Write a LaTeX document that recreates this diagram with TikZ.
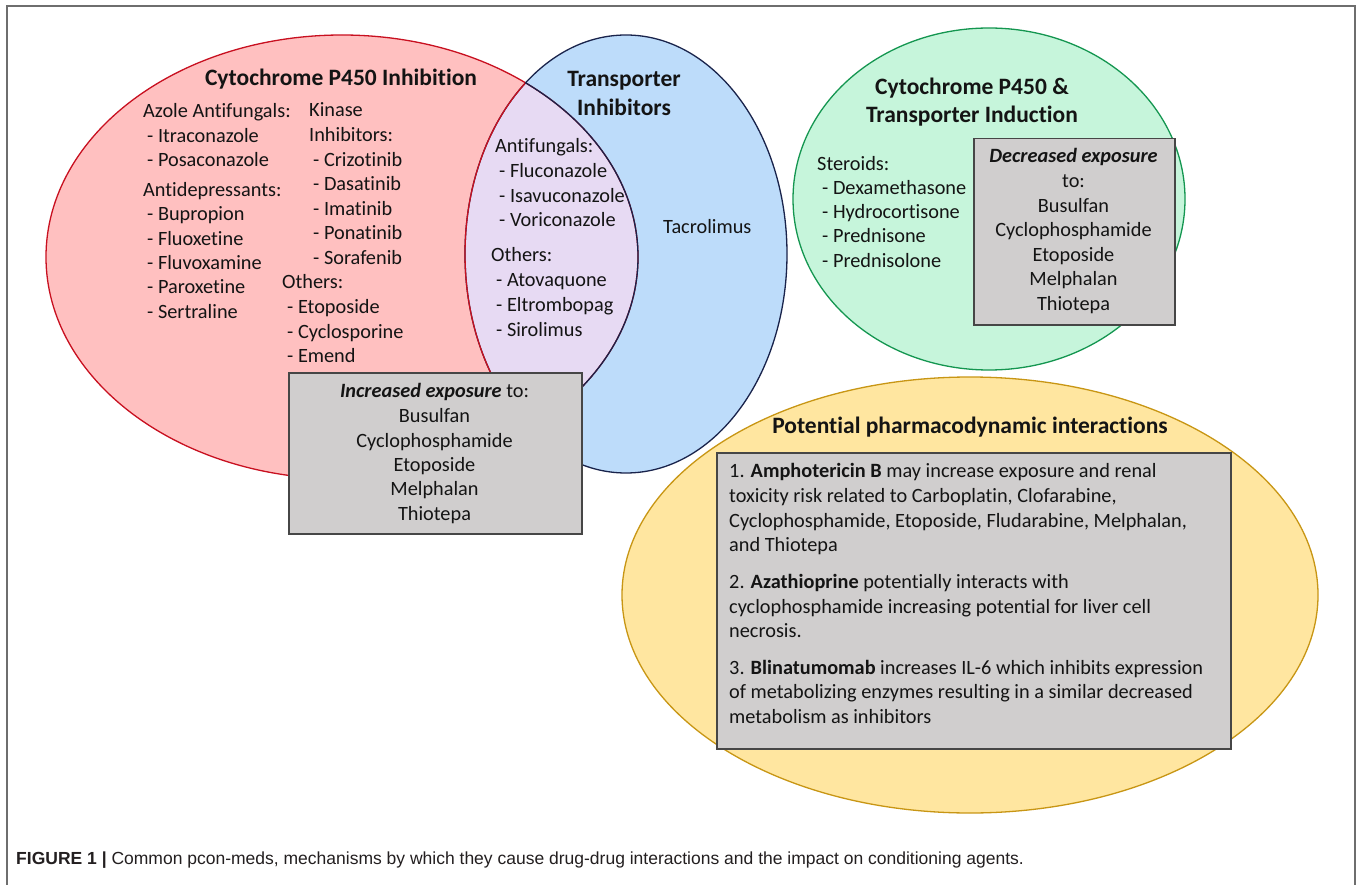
\documentclass[tikz,border=0pt]{standalone}
\usepackage{fontspec}
\setmainfont{Carlito}[Ligatures=NoCommon]
\newfontfamily\capfont{Liberation Sans}
\definecolor{pinkf}{RGB}{255,192,192}
\definecolor{redl}{RGB}{200,16,32}
\definecolor{bluef}{RGB}{189,220,250}
\definecolor{navyl}{RGB}{25,35,75}
\definecolor{purplef}{RGB}{231,218,243}
\definecolor{greenf}{RGB}{198,245,219}
\definecolor{greenl}{RGB}{20,150,80}
\definecolor{yellowf}{RGB}{255,230,160}
\definecolor{yellowl}{RGB}{200,150,20}
\definecolor{boxf}{RGB}{208,206,206}
\definecolor{boxl}{RGB}{70,70,70}
\definecolor{capc}{RGB}{35,31,32}
\definecolor{framec}{RGB}{110,110,110}
\definecolor{txtc}{RGB}{20,20,20}
\begin{document}
\begin{tikzpicture}[x=1pt,y=-1pt,
  txt/.style={anchor=base west,inner sep=0pt,text=txtc,font=\fontsize{20.3}{24}\selectfont},
  ctxt/.style={anchor=base,inner sep=0pt,text=txtc,font=\fontsize{20.3}{24}\selectfont},
  ttl/.style={anchor=base,inner sep=0pt,text=txtc,font=\fontsize{23.5}{28}\selectfont\bfseries},
  graybox/.style={draw=boxl,fill=boxf,line width=1.5pt,anchor=north west,inner sep=0pt},
  outl/.style={line width=1.3pt}]
\useasboundingbox (0,0) rectangle (1357,885);
\fill[white] (0,0) rectangle (1357,885);
% frame
\draw[framec,line width=2pt] (7,885) -- (7,6) -- (1355,6) -- (1355,885);

% red and blue ellipses
\fill[pinkf] (342,257) ellipse [x radius=296pt, y radius=222pt];
\fill[bluef] (626,254) ellipse [x radius=161pt, y radius=219pt];
\begin{scope}
  \clip (342,257) ellipse [x radius=296pt, y radius=222pt];
  \fill[purplef] (626,254) ellipse [x radius=161pt, y radius=219pt];
\end{scope}
\draw[redl,outl] (342,257) ellipse [x radius=296pt, y radius=222pt];
\draw[navyl,outl] (626,254) ellipse [x radius=161pt, y radius=219pt];
\begin{scope}
  \clip (342,257) ellipse [x radius=296pt, y radius=222pt];
  \draw[redl,outl] (626,254) ellipse [x radius=161pt, y radius=219pt];
\end{scope}
\begin{scope}
  \clip (626,254) ellipse [x radius=161pt, y radius=219pt];
  \draw[navyl,outl] (342,257) ellipse [x radius=296pt, y radius=222pt];
\end{scope}

% green ellipse
\draw[greenl,fill=greenf,outl] (989,199) ellipse [x radius=196pt, y radius=171pt];
% yellow ellipse
\draw[yellowl,fill=yellowf,outl] (970,595) ellipse [x radius=348pt, y radius=218pt];

% titles
\node[ttl] (t-cyp) at (341,86) {Cytochrome P450 Inhibition};
\node[ttl] (t-tr1) at (624,87) {Transporter};
\node[ttl] (t-tr2) at (624,116) {Inhibitors};
\node[ttl] (t-ind1) at (972,95) {Cytochrome P450 \&};
\node[ttl] (t-ind2) at (972,123) {Transporter Induction};
\node[ttl] (t-pd) at (970,433) {Potential pharmacodynamic interactions};

% red column 1
\node[txt] (r-a) at (143,118) {Azole Antifungals:};
\foreach \t/\y [count=\i] in {- Itraconazole/143, - Posaconazole/167}
  \node[txt] (ra-\i) at (147,\y) {\t};
\node[txt] (r-b) at (143,197) {Antidepressants:};
\foreach \t/\y [count=\i] in {- Bupropion/221, - Fluoxetine/246, - Fluvoxamine/270, - Paroxetine/294, - Sertraline/319}
  \node[txt] (rb-\i) at (147,\y) {\t};
% red column 2
\node[txt] (k-1) at (309,117) {Kinase};
\node[txt] (k-2) at (309,142) {Inhibitors:};
\foreach \t/\y [count=\i] in {- Crizotinib/167, - Dasatinib/191, - Imatinib/216, - Ponatinib/240, - Sorafenib/265}
  \node[txt] (kk-\i) at (313,\y) {\t};
\node[txt] (o-1) at (282,289) {Others:};
\foreach \t/\y [count=\i] in {- Etoposide/313, - Cyclosporine/338, - Emend/362}
  \node[txt] (oo-\i) at (287,\y) {\t};

% purple
\node[txt] (p-a) at (495,153) {Antifungals:};
\foreach \t/\y [count=\i] in {- Fluconazole/178, - Isavuconazole/203, - Voriconazole/227}
  \node[txt] (pa-\i) at (499,\y) {\t};
\node[txt] (p-o) at (491,262) {Others:};
\foreach \t/\y [count=\i] in {- Atovaquone/287, - Eltrombopag/312, - Sirolimus/336}
  \node[txt] (po-\i) at (496,\y) {\t};

% blue
\node[txt] (tacro) at (663,234) {Tacrolimus};

% green
\node[txt] (s-0) at (817,171) {Steroids:};
\foreach \t/\y [count=\i] in {- Dexamethasone/195, - Hydrocortisone/219, - Prednisone/243, - Prednisolone/268}
  \node[txt] (s-\i) at (822,\y) {\t};

% increased box
\node[graybox,minimum width=293pt,minimum height=161pt] (incbox) at (288,372) {};
\node[ctxt] (inc-0) at (434.5,397) {\textbf{\textit{Increased exposure}} to:};
\foreach \t/\y [count=\i] in {Busulfan/422, Cyclophosphamide/447, Etoposide/471, Melphalan/495, Thiotepa/520}
  \node[ctxt] (inc-\i) at (434.5,\y) {\t};

% decreased box
\node[graybox,minimum width=201pt,minimum height=186pt] (decbox) at (973,138) {};
\node[ctxt] (dec-0) at (1073.5,163) {\textbf{\textit{Decreased exposure}}};
\foreach \t/\y [count=\i] in {to:/188, Busulfan/213, Cyclophosphamide/237, Etoposide/262, Melphalan/286, Thiotepa/311}
  \node[ctxt] (dec-\i) at (1073.5,\y) {\t};

% pharmacodynamic box
\node[graybox,minimum width=514pt,minimum height=296pt] (pdbox) at (716,452) {};
\node[txt] (pd-1) at (729,477) {1. \textbf{Amphotericin B} may increase exposure and renal};
\node[txt] (pd-2) at (729,502) {toxicity risk related to Carboplatin, Clofarabine,};
\node[txt] (pd-3) at (729,527) {Cyclophosphamide, Etoposide, Fludarabine, Melphalan,};
\node[txt] (pd-4) at (729,551) {and Thiotepa};
\node[txt] (pd-5) at (729,588) {2. \textbf{Azathioprine} potentially interacts with};
\node[txt] (pd-6) at (729,613) {cyclophosphamide increasing potential for liver cell};
\node[txt] (pd-7) at (729,637) {necrosis.};
\node[txt] (pd-8) at (729,674) {3. \textbf{Blinatumomab} increases IL-6 which inhibits expression};
\node[txt] (pd-9) at (729,698) {of metabolizing enzymes resulting in a similar decreased};
\node[txt] (pd-10) at (729,723) {metabolism as inhibitors};

% caption
\node[anchor=base west,inner sep=0pt,text=capc,font=\capfont\fontsize{17.5}{21}\selectfont] (caption) at (16,864)
  {\textbf{FIGURE 1 |} Common pcon-meds, mechanisms by which they cause drug-drug interactions and the impact on conditioning agents.};
\end{tikzpicture}
\end{document}
